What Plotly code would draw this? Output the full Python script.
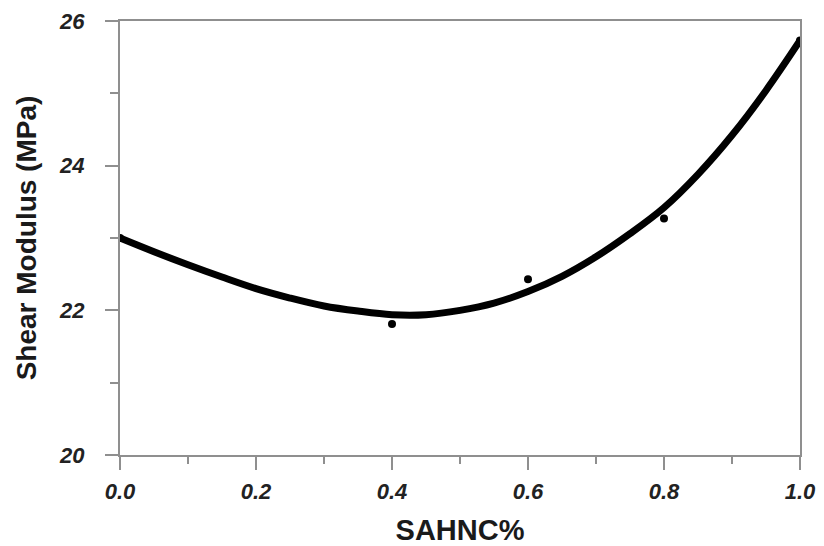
import plotly.graph_objects as go

# Fitted curve
fit_x = [0.0, 0.05, 0.1, 0.15, 0.2, 0.25, 0.3, 0.35, 0.4, 0.45, 0.5,
         0.55, 0.6, 0.65, 0.7, 0.75, 0.8, 0.85, 0.9, 0.95, 1.0]
fit_y = [23.00, 22.81, 22.63, 22.46, 22.30, 22.17, 22.06, 21.99, 21.94, 21.94, 22.00,
         22.10, 22.26, 22.47, 22.74, 23.06, 23.42, 23.88, 24.42, 25.04, 25.73]

# Measured points
pt_x = [0.0, 0.4, 0.6, 0.8, 1.0]
pt_y = [23.00, 21.81, 22.43, 23.27, 25.73]

x_ticks = [0.0, 0.2, 0.4, 0.6, 0.8, 1.0]
x_tick_text = ["0.0", "0.2", "0.4", "0.6", "0.8", "1.0"]
y_ticks = [20, 22, 24, 26]
y_tick_text = ["20", "22", "24", "26"]

fig = go.Figure()
fig.add_trace(go.Scatter(x=fit_x, y=fit_y, mode="lines",
                         line=dict(color="black", width=7, shape="spline"),
                         showlegend=False, hoverinfo="skip"))
fig.add_trace(go.Scatter(x=pt_x, y=pt_y, mode="markers",
                         marker=dict(color="black", size=8),
                         showlegend=False))

axis_col = "#8f8f8f"
tickfont = dict(family="Arial, Liberation Sans, sans-serif", size=22,
                color="#222222", weight="bold", style="italic")

fig.update_xaxes(range=[0, 1], tickvals=x_ticks, ticktext=x_tick_text,
                 automargin=False, ticklabeloverflow="allow",
                 showline=True, linecolor=axis_col, linewidth=2, mirror=True,
                 ticks="outside", ticklen=13, tickwidth=2, tickcolor=axis_col,
                 minor=dict(dtick=0.1, ticks="outside", ticklen=7, tickwidth=2,
                            tickcolor=axis_col, showgrid=False),
                 showgrid=False, zeroline=False, tickfont=tickfont,
                 ticklabelstandoff=3,
                 title=dict(text="SAHNC%", standoff=19,
                            font=dict(family="Liberation Sans Narrow, Arial Narrow, Arial, sans-serif",
                                      size=29, color="#1a1a1a", weight="bold")))
fig.update_yaxes(range=[20, 26], tickvals=y_ticks, ticktext=y_tick_text,
                 automargin=False, ticklabeloverflow="allow",
                 showline=True, linecolor=axis_col, linewidth=2, mirror=True,
                 ticks="outside", ticklen=13, tickwidth=2, tickcolor=axis_col,
                 minor=dict(dtick=1, ticks="outside", ticklen=8, tickwidth=2,
                            tickcolor=axis_col, showgrid=False),
                 showgrid=False, zeroline=False, tickfont=tickfont,
                 ticklabelstandoff=16,
                 title=dict(text="Shear Modulus (MPa)", standoff=14,
                            font=dict(family="Arial, Liberation Sans, sans-serif",
                                      size=28, color="#1a1a1a", weight="bold")))

# page body has an 8px default margin; compensate so the plot area lands near 120..800 x 20..455
fig.update_layout(width=816, height=538,
                  margin=dict(l=112, r=24, t=13, b=91),
                  paper_bgcolor="white", plot_bgcolor="white")

fig.write_html("out.html")
